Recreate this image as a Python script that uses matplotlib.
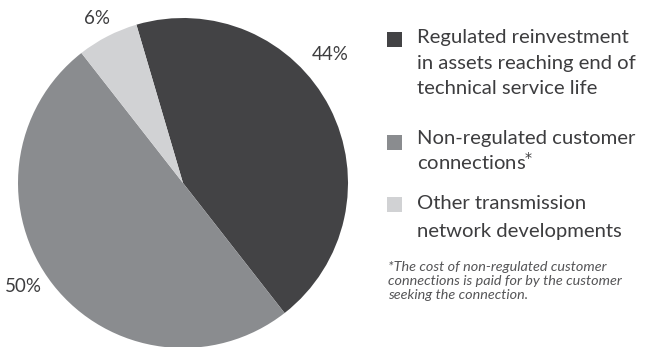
import matplotlib
matplotlib.use("Agg")
import matplotlib.pyplot as plt

categories = [
    "Regulated reinvestment\nin assets reaching end of\ntechnical service life",
    "Non-regulated customer\nconnections$^{*}$",
    "Other transmission\nnetwork developments",
]
values = [44, 50, 6]
colors = ["#434345", "#8a8c8f", "#d1d2d4"]
footnote = ("*The cost of non-regulated customer\n"
            "connections is paid for by the customer\n"
            "seeking the connection.")

plt.rcParams['font.family'] = ['Lato', 'DejaVu Sans']
W, H = 654, 347
fig = plt.figure(figsize=(W / 100, H / 100), dpi=100)

def fx(x):
    return x / W

def fy(y):
    return 1 - y / H

cx, cy, r = 183, 183, 165
ax = fig.add_axes([fx(cx - r), fy(cy + r), 2 * r / W, 2 * r / H])
ax.pie(values, colors=colors, startangle=106.4, counterclock=False,
       wedgeprops=dict(linewidth=0))
ax.set_xlim(-1, 1)
ax.set_ylim(-1, 1)
ax.set_aspect('equal')
ax.axis('off')

txtc = "#3d3d3f"
label_pos = [(330, 55), (23, 286), (97, 18)]
for v, (x, y) in zip(values, label_pos):
    fig.text(fx(x), fy(y), f"{v}%", ha='center', va='center',
             fontsize=13.5, color=txtc)

# legend
sq = 15
groups = [
    (32, [38, 63, 89]),
    (135, [139, 162]),
    (197, [203, 232]),
]
for (sqy, ys), cat, col in zip(groups, categories, colors):
    fig.patches.append(plt.Rectangle((fx(387), fy(sqy + sq)), sq / W, sq / H,
                                     transform=fig.transFigure, color=col,
                                     linewidth=0))
    for line, y in zip(cat.split("\n"), ys):
        fig.text(fx(417), fy(y), line, ha='left', va='center',
                 fontsize=14.6, color=txtc)

fn_lines = footnote.split("\n")
for line, y in zip(fn_lines, [267, 281, 295]):
    fig.text(fx(388), fy(y), line, ha='left', va='center', fontsize=10.4,
             style='italic', color="#555557")

fig.savefig("out.png", dpi=100)
